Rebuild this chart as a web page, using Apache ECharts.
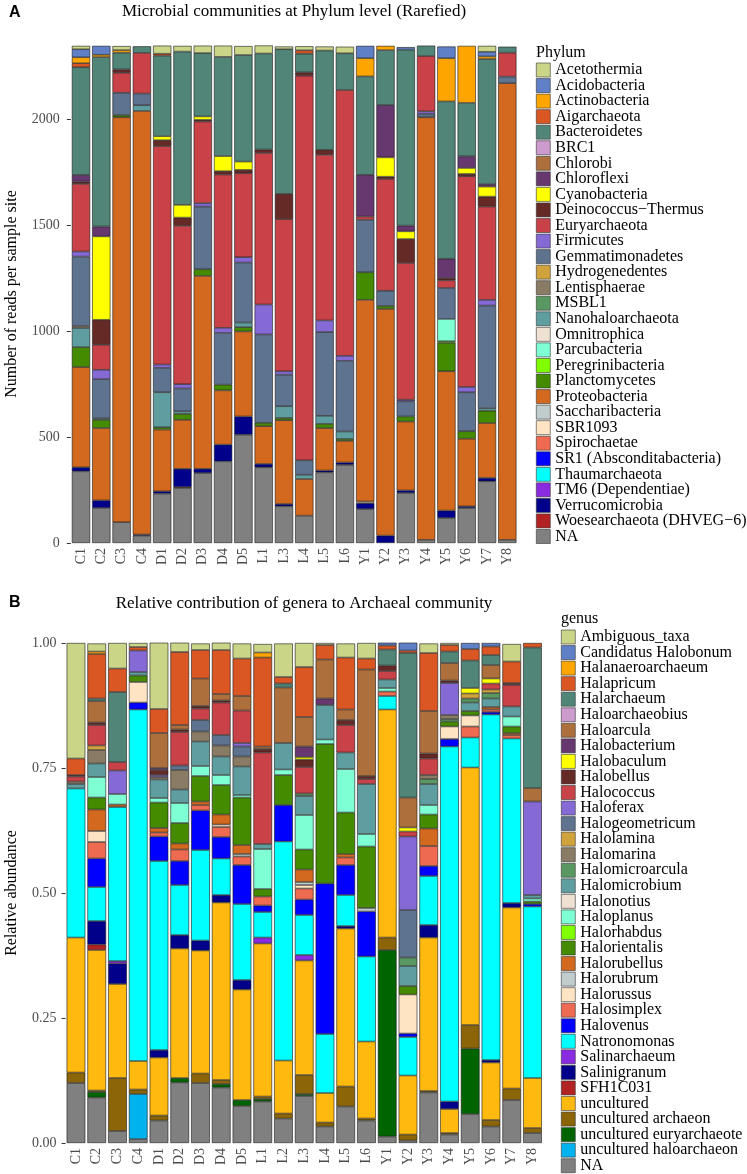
<!DOCTYPE html>
<html><head><meta charset="utf-8">
<script src="https://cdn.jsdelivr.net/npm/echarts@6.0.0/dist/echarts.min.js"></script>
<style>html,body{margin:0;padding:0;background:#fff}#c{width:747px;height:1174px}</style>
</head><body><div id="c"></div>
<script>
// ---------------- Panel A: phylum level (rarefied reads) ----------------
const samplesA = ['C1','C2','C3','C4','D1','D2','D3','D4','D5','L1','L3','L4','L5','L6','Y1','Y2','Y3','Y4','Y5','Y6','Y7','Y8'];
const yTicksA = [0, 500, 1000, 1500, 2000];
const phylumNames = ['Acetothermia','Acidobacteria','Actinobacteria','Aigarchaeota','Bacteroidetes','BRC1','Chlorobi','Chloroflexi','Cyanobacteria','Deinococcus\u2212Thermus','Euryarchaeota','Firmicutes','Gemmatimonadetes','Hydrogenedentes','Lentisphaerae','MSBL1','Nanohaloarchaeota','Omnitrophica','Parcubacteria','Peregrinibacteria','Planctomycetes','Proteobacteria','Saccharibacteria','SBR1093','Spirochaetae','SR1 (Absconditabacteria)','Thaumarchaeota','TM6 (Dependentiae)','Verrucomicrobia','Woesearchaeota (DHVEG\u22126)','NA'];
const phylumColors = ['#CBD588','#5F7FC7','#FFA500','#DA5724','#508578','#CD9BCD','#AD6F3B','#673770','#FFFF00','#652926','#C84248','#8569D5','#5E738F','#D1A33D','#8A7C64','#599861','#5F9EA0','#EEE1D1','#7FFFD4','#7FFF00','#458B00','#D2691E','#C1CDCD','#FFE4C4','#EE6A50','#0000FF','#00FFFF','#8A2BE2','#00008B','#B22222','#808080'];

const acetothermia      = [16,0,19,0,38,27,35,53,42,38,13,19,19,31,0,0,0,0,0,0,28,0];
const acidobacteria     = [38,42,0,0,0,0,0,0,0,0,0,0,0,0,58,0,12,0,55,0,22,0];
const actinobacteria    = [28,11,12,0,0,0,0,0,0,0,0,0,0,0,86,20,0,0,204,269,12,0];
const aigarchaeota      = [19,0,0,0,9,0,0,0,0,0,0,16,0,0,0,0,0,0,0,0,0,0];
const bacteroidetes     = [508,799,79,31,380,723,299,468,503,453,682,88,468,173,464,259,830,49,742,252,590,28];
const brc1              = [0,0,0,0,0,0,0,0,0,0,0,0,0,0,0,0,0,0,0,0,0,0];
const chlorobi          = [0,0,0,0,0,0,0,0,0,0,0,0,0,0,0,0,0,0,0,0,0,0];
const chloroflexi       = [31,47,0,0,0,0,0,0,0,0,0,0,0,0,197,247,27,0,91,55,12,0];
const cyanobacteria     = [0,393,0,0,19,60,16,71,39,0,0,0,0,0,0,91,36,0,0,28,47,0];
const deinococcus       = [11,118,16,0,28,39,8,16,16,16,119,16,24,0,0,11,113,0,11,11,47,0];
const euryarchaeota     = [319,118,94,192,1030,747,385,723,396,715,718,1814,781,1254,16,527,645,261,36,994,440,113];
const firmicutes        = [24,44,0,0,16,20,16,24,25,141,16,0,55,24,0,0,8,12,0,25,27,0];
const gemmatimonadetes  = [327,184,105,55,115,108,296,244,283,417,149,68,395,333,247,72,71,16,146,184,484,31];
const hydrogenedentes   = [0,0,0,0,0,0,0,0,0,0,0,0,0,0,0,0,0,0,0,0,0,0];
const lentisphaerae     = [10,0,0,0,0,0,0,0,0,0,0,0,0,0,0,0,0,0,0,0,0,0];
const msbl1             = [0,0,0,0,0,0,0,0,0,0,0,0,0,0,0,0,0,0,0,0,0,0];
const nanohaloarchaeota = [90,8,0,27,165,12,0,0,22,0,55,20,38,35,0,0,0,0,0,0,12,0];
const omnitrophica      = [0,0,0,0,0,0,0,0,0,0,0,0,0,0,0,0,0,0,0,0,0,0];
const parcubacteria     = [0,0,0,0,0,0,0,0,0,0,0,0,0,0,0,0,0,0,105,0,0,0];
const peregrinibacteria = [0,0,0,0,0,0,0,0,0,0,0,0,0,0,0,0,0,0,8,0,0,0];
const planctomycetes    = [94,39,11,0,11,28,31,27,20,16,11,0,20,9,130,14,24,0,134,35,58,0];
const proteobacteria    = [473,341,1910,1998,291,231,910,256,401,178,395,173,200,102,951,1069,325,1993,657,319,259,2154];
const saccharibacteria  = [0,0,0,0,0,0,0,0,0,0,0,0,0,0,0,0,0,0,0,0,0,0];
const sbr1093           = [0,0,0,0,0,0,0,0,0,0,0,0,0,0,8,0,0,0,0,0,0,0];
const spirochaetae      = [0,0,0,0,0,0,0,0,0,0,0,0,0,0,0,0,0,0,0,0,0,0];
const sr1               = [0,0,0,0,0,0,0,0,0,0,0,0,0,0,0,0,0,0,0,0,0,0];
const thaumarchaeota    = [0,0,0,0,0,0,0,0,0,0,0,0,0,0,0,0,0,0,0,0,0,0];
const tm6               = [0,0,0,0,0,0,0,0,0,0,0,0,0,0,0,0,0,0,0,0,0,0];
const verrucomicrobia   = [19,36,0,5,11,86,20,79,86,16,11,0,9,11,28,35,12,0,35,8,16,0];
const woesearchaeota    = [0,0,0,0,0,5,0,0,0,0,0,0,0,0,0,0,0,0,0,0,0,0];
const naPhylum          = [338,165,98,35,233,259,330,385,511,357,173,129,333,369,160,0,236,15,118,165,291,15];

const phylumData = [acetothermia,acidobacteria,actinobacteria,aigarchaeota,bacteroidetes,brc1,chlorobi,chloroflexi,cyanobacteria,deinococcus,euryarchaeota,firmicutes,gemmatimonadetes,hydrogenedentes,lentisphaerae,msbl1,nanohaloarchaeota,omnitrophica,parcubacteria,peregrinibacteria,planctomycetes,proteobacteria,saccharibacteria,sbr1093,spirochaetae,sr1,thaumarchaeota,tm6,verrucomicrobia,woesearchaeota,naPhylum];

// ---------------- Panel B: genus relative abundance ----------------
const samplesB = ['C1','C2','C3','C4','D1','D2','D3','D4','D5','L1','L2','L3','L4','L5','L6','Y1','Y2','Y3','Y4','Y5','Y6','Y7','Y8'];
const yTicksB = [0, 0.25, 0.5, 0.75, 1];
const genusNames = ['Ambiguous_taxa','Candidatus Halobonum','Halanaeroarchaeum','Halapricum','Halarchaeum','Haloarchaeobius','Haloarcula','Halobacterium','Halobaculum','Halobellus','Halococcus','Haloferax','Halogeometricum','Halolamina','Halomarina','Halomicroarcula','Halomicrobium','Halonotius','Haloplanus','Halorhabdus','Halorientalis','Halorubellus','Halorubrum','Halorussus','Halosimplex','Halovenus','Natronomonas','Salinarchaeum','Salinigranum','SFH1C031','uncultured','uncultured archaeon','uncultured euryarchaeote','uncultured haloarchaeon','NA'];
const genusColors = ['#CBD588','#5F7FC7','#FFA500','#DA5724','#508578','#CD9BCD','#AD6F3B','#673770','#FFFF00','#652926','#C84248','#8569D5','#5E738F','#D1A33D','#8A7C64','#599861','#5F9EA0','#EEE1D1','#7FFFD4','#7FFF00','#458B00','#D2691E','#C1CDCD','#FFE4C4','#EE6A50','#0000FF','#00FFFF','#8A2BE2','#00008B','#B22222','#FFB90F','#8B6508','#006400','#00B2EE','#808080'];

const ambiguousTaxa      = [.231,.016,.051,.008,.133,.02,.013,.015,.03,.017,.067,.048,.004,.028,.031,0,0,.019,.004,0,0,.035,0];
const candidatusHalobonum= [0,0,0,0,0,0,0,0,0,0,0,0,0,0,0,.007,.017,0,0,.012,.007,0,0];
const halanaeroarchaeum  = [0,.005,0,0,0,0,0,0,0,.01,0,0,0,0,0,0,0,0,0,0,0,0,0];
const halapricum         = [.033,.089,.047,.007,.048,.146,.057,.088,.075,.178,.013,.1,.029,.104,.022,.008,.005,.116,.013,.023,.017,.043,.009];
const halarchaeum        = [0,.005,.14,0,0,0,0,0,0,0,.008,0,0,0,0,.032,.289,0,.023,.055,.02,0,.281];
const haloarchaeobius    = [0,0,0,0,0,0,0,0,0,0,0,0,0,0,0,0,0,0,0,0,0,0,0];
const haloarcula         = [0,.043,0,0,.07,.009,.055,.013,.029,.005,.111,.059,.078,.021,.213,0,.06,.085,.035,0,.027,0,.027];
const halobacterium      = [0,0,0,0,.004,0,0,0,0,0,0,.021,.013,0,0,0,0,0,0,0,0,0,0];
const halobaculum        = [0,0,0,0,0,0,0,0,0,0,0,.005,0,0,0,0,.008,0,0,.011,.01,0,0];
const halobellus         = [.003,.005,0,0,.01,.005,.005,.004,0,.007,0,.015,0,.01,.006,.011,0,.01,.005,0,0,.004,0];
const halococcus         = [.01,.041,.017,0,0,.067,.023,.065,.065,.183,0,.053,0,.055,.01,.017,.01,.033,0,0,.012,.043,0];
const haloferax          = [0,0,.047,.043,.004,0,0,0,.007,0,0,0,0,0,0,0,.147,0,.064,0,0,0,.187];
const halogeometricum    = [0,0,0,0,0,.009,.023,.021,.02,0,0,0,0,0,0,0,.095,0,0,0,0,0,0];
const halolamina         = [0,.009,0,0,0,0,0,0,0,0,0,0,0,0,0,0,0,0,0,.01,.007,0,0];
const halomarina         = [.005,.027,0,0,.005,.039,.02,.022,.02,0,0,0,0,0,0,0,0,.008,.008,0,0,0,0];
const halomicroarcula    = [0,0,0,0,0,0,0,0,0,0,0,.005,0,0,0,0,.017,.01,.005,.008,.011,0,0];
const halomicrobium      = [.009,.027,0,.007,.037,.027,.049,.037,.057,.01,.053,.038,.069,.033,.1,.017,.04,.042,0,.017,.017,.02,.007];
const halonotius         = [0,0,0,0,0,0,0,0,0,0,0,0,0,0,0,0,0,0,0,0,0,0,0];
const haloplanus         = [0,.041,.021,0,.009,.04,.02,.02,.005,.08,.011,.069,.009,.087,.025,.007,0,.019,0,0,0,.02,.006];
const halorhabdus        = [0,0,0,0,0,0,0,0,0,0,0,0,0,0,0,0,0,0,0,0,0,0,0];
const halorientalis      = [0,.024,0,.013,.051,.041,.051,.059,.095,.015,.06,.04,.279,.083,.123,0,.017,.028,.01,.009,0,.013,.005];
const halorubellus       = [0,.043,.005,0,.009,.012,.007,.02,.018,0,0,.025,0,.007,0,0,0,.035,0,0,.005,.004,0];
const halorubrum         = [0,0,0,0,0,0,0,0,.005,0,0,.006,0,0,.007,0,0,0,0,0,0,0,0];
const halorussus         = [0,.022,0,.041,0,0,0,.005,0,0,0,.007,0,0,0,0,.078,0,.025,.022,0,0,0];
const halosimplex        = [0,.033,0,0,.008,.023,.011,.02,.017,.018,0,.022,0,.015,0,.009,0,.04,0,.022,.005,.007,0];
const halovenus          = [0,.057,0,.014,.049,.048,.079,.043,.078,.013,.073,.031,.301,.06,.09,0,.007,.02,.015,0,.005,0,.005];
const natronomonas       = [.298,.068,.308,.703,.378,.1,.181,.073,.152,.051,.438,.08,.118,.062,.17,.027,.077,.098,.71,.06,.691,.329,.343];
const salinarchaeum      = [0,0,.005,0,0,0,0,0,0,.012,0,.011,0,0,0,0,0,0,0,0,0,0,0];
const salinigranum       = [0,.047,.041,0,.015,.027,.02,.015,.019,0,0,0,0,.005,0,0,0,.025,.015,0,.005,.009,0];
const sfh1c031           = [0,.011,0,0,0,0,0,0,0,0,0,0,0,0,0,0,0,0,0,0,0,0,0];
const uncultured         = [.27,.281,.188,.057,.116,.259,.246,.355,.221,.306,.106,.229,.059,.316,.154,.456,.118,.307,.048,.515,.115,.362,.1];
const unculturedArchaeon = [.021,.003,.106,.009,.01,0,.019,.008,0,.005,.01,.038,.008,.04,.004,.025,.012,.003,.003,.047,.013,.023,.01];
const unculturedEuryarchaeote = [0,.011,0,0,0,.009,0,.007,.012,.005,0,.004,0,0,0,.373,0,0,0,.131,0,0,0];
const unculturedHaloarchaeon  = [0,0,0,.09,0,0,0,0,0,0,0,0,0,0,0,0,0,0,0,0,0,0,0];
const naGenus            = [.12,.091,.024,.008,.045,.121,.12,.111,.074,.083,.049,.094,.033,.073,.045,.013,.005,.101,.017,.058,.033,.086,.02];

const genusData = [ambiguousTaxa,candidatusHalobonum,halanaeroarchaeum,halapricum,halarchaeum,haloarchaeobius,haloarcula,halobacterium,halobaculum,halobellus,halococcus,haloferax,halogeometricum,halolamina,halomarina,halomicroarcula,halomicrobium,halonotius,haloplanus,halorhabdus,halorientalis,halorubellus,halorubrum,halorussus,halosimplex,halovenus,natronomonas,salinarchaeum,salinigranum,sfh1c031,uncultured,unculturedArchaeon,unculturedEuryarchaeote,unculturedHaloarchaeon,naGenus];

// ---------------- build chart ----------------
const SERIF = 'Liberation Serif';
const AXIS_GRAY = '#4D4D4D';
const clean = arr => arr.map(v => (v === 0 ? '-' : v));

const series = [];
// stack bottom-to-top is the reverse of legend order (NA at bottom)
for (let i = phylumNames.length - 1; i >= 0; i--) {
  series.push({
    name: phylumNames[i], type: 'bar', stack: 'phylum', xAxisIndex: 0, yAxisIndex: 0,
    barWidth: '90%', data: clean(phylumData[i]),
    itemStyle: { color: phylumColors[i], borderColor: '#1a1a1a', borderWidth: 0.6 },
    emphasis: { disabled: true }, animation: false
  });
}
for (let i = genusNames.length - 1; i >= 0; i--) {
  series.push({
    name: genusNames[i], type: 'bar', stack: 'genus', xAxisIndex: 1, yAxisIndex: 1,
    barWidth: '90%', data: clean(genusData[i]),
    itemStyle: { color: genusColors[i], borderColor: '#1a1a1a', borderWidth: 0.6 },
    emphasis: { disabled: true }, animation: false
  });
}

const xAxisCommon = {
  type: 'category', axisLine: { show: false }, axisTick: { show: false },
  axisLabel: { rotate: 90, interval: 0, margin: 5, fontFamily: SERIF, fontSize: 14, color: AXIS_GRAY }
};

const legendCommon = {
  orient: 'vertical', padding: 0, itemWidth: 14, itemHeight: 14, icon: 'rect',
  selectedMode: false, itemGap: -0.45,
  itemStyle: { borderColor: '#333', borderWidth: 0.6 },
  textStyle: { fontFamily: SERIF, fontSize: 16, color: '#000' }
};

const option = {
  backgroundColor: '#fff',
  animation: false,
  grid: [
    { left: 70.85, top: 44.8, width: 446.6, height: 498.2 },
    { left: 65.6, top: 643, width: 477.25, height: 500 }
  ],
  xAxis: [
    Object.assign({}, xAxisCommon, { gridIndex: 0, data: samplesA }),
    Object.assign({}, xAxisCommon, { gridIndex: 1, data: samplesB })
  ],
  yAxis: [
    { type: 'value', gridIndex: 0, min: 0, max: 2350,
      splitLine: { show: false }, axisLine: { show: false },
      axisTick: { show: true, length: 4, lineStyle: { color: '#333' }, customValues: yTicksA },
      axisLabel: { customValues: yTicksA, margin: 11, fontFamily: SERIF, fontSize: 14, color: AXIS_GRAY,
                   formatter: v => String(v) } },
    { type: 'value', gridIndex: 1, min: 0, max: 1, interval: 0.25,
      splitLine: { show: false }, axisLine: { show: false },
      axisTick: { show: true, length: 4, lineStyle: { color: '#333' }, customValues: yTicksB },
      axisLabel: { customValues: yTicksB, margin: 9, fontFamily: SERIF, fontSize: 14, color: AXIS_GRAY,
                   formatter: v => Number(v).toFixed(2) } }
  ],
  legend: [
    Object.assign({}, legendCommon, { left: 536, top: 62, height: 520, data: phylumNames }),
    Object.assign({}, legendCommon, { left: 561, top: 629, height: 560, data: genusNames })
  ],
  graphic: [
    { type: 'text', x: 9, y: 13, style: { text: 'A', font: 'bold 16px "Liberation Sans", Arial', fill: '#000', verticalAlign: 'middle' } },
    { type: 'text', x: 294, y: 12, style: { text: 'Microbial communities at Phylum level (Rarefied)', font: '17px "Liberation Serif"', fill: '#000', align: 'center', verticalAlign: 'middle' } },
    { type: 'text', x: 12, y: 294, rotation: Math.PI / 2, style: { text: 'Number of reads per sample site', font: '16px "Liberation Serif"', fill: '#000', align: 'center', verticalAlign: 'middle' } },
    { type: 'text', x: 536, y: 53, style: { text: 'Phylum', font: '16px "Liberation Serif"', fill: '#000', verticalAlign: 'middle' } },
    { type: 'text', x: 9, y: 603, style: { text: 'B', font: 'bold 16px "Liberation Sans", Arial', fill: '#000', verticalAlign: 'middle' } },
    { type: 'text', x: 304, y: 604, style: { text: 'Relative contribution of genera to Archaeal community', font: '17px "Liberation Serif"', fill: '#000', align: 'center', verticalAlign: 'middle' } },
    { type: 'text', x: 12, y: 893, rotation: Math.PI / 2, style: { text: 'Relative abundance', font: '16px "Liberation Serif"', fill: '#000', align: 'center', verticalAlign: 'middle' } },
    { type: 'text', x: 561, y: 619, style: { text: 'genus', font: '16px "Liberation Serif"', fill: '#000', verticalAlign: 'middle' } }
  ],
  series: series
};

const chart = echarts.init(document.getElementById('c'), null, { renderer: 'canvas' });
chart.setOption(option);
</script>
</body></html>
